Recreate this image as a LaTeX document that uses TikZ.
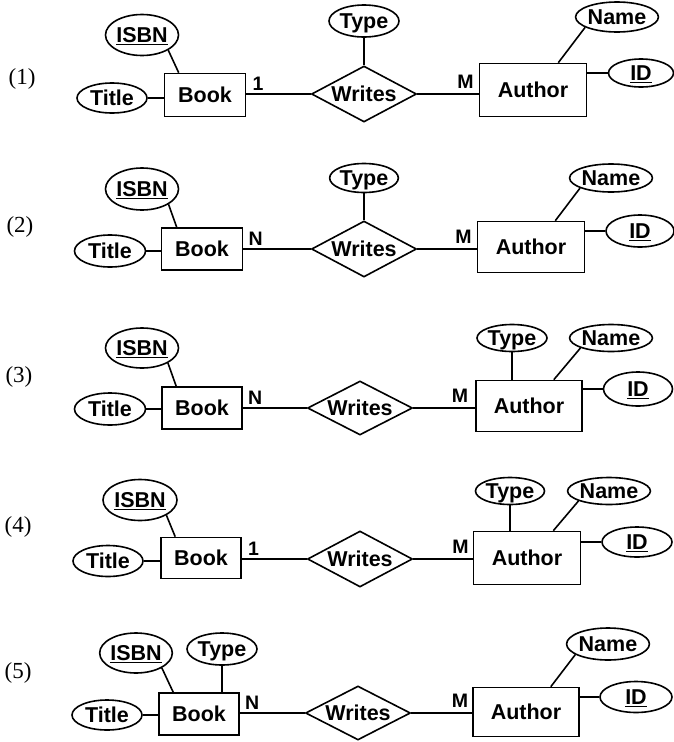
\documentclass[tikz,border=0pt]{standalone}
\usepackage{fontspec}
\setmainfont{Liberation Sans}
\newfontfamily\numserif{Liberation Serif}
\usetikzlibrary{shapes.geometric}
\newcommand{\bigfnt}{\bfseries\fontsize{21.5}{25}\selectfont}
\newcommand{\cardfnt}{\bfseries\fontsize{19.5}{23}\selectfont}
\newcommand{\numfnt}{\numserif\fontsize{23}{27}\selectfont}
\newcommand{\ul}[1]{\underline{#1}}
\tikzset{
  ent/.style={draw, rectangle, line width=1.6pt, inner sep=0pt, font=\bigfnt,
    text height=15.4pt, text depth=0pt},
  attr/.style={draw, ellipse, line width=1.6pt, inner sep=0pt, font=\bigfnt,
    text height=15.4pt, text depth=0pt},
  rel/.style={draw, diamond, line width=1.6pt, inner sep=0pt, aspect=1.9,
    minimum width=105pt, font=\bigfnt, text height=15.4pt, text depth=0pt},
  card/.style={inner sep=0pt, font=\cardfnt},
  num/.style={inner sep=0pt, font=\numfnt},
  conn/.style={line width=1.6pt}
}
\begin{document}
\begin{tikzpicture}[x=1pt,y=-1pt]
\useasboundingbox (0,0) rectangle (674,742);

% ---------------- (1) ----------------
\node[num] (n1) at (22,79) {(1)};
\node[attr, minimum width=73pt, minimum height=41pt] (isbn1) at (142,35) {\ul{ISBN}};
\node[attr, minimum width=70pt, minimum height=30pt] (title1) at (112,98) {Title};
\node[ent, minimum width=81pt, minimum height=43pt] (book1) at (205,95) {Book};
\node[rel, minimum height=56pt] (w1) at (364,94) {Writes};
\node[attr, minimum width=70pt, minimum height=32pt] (type1) at (364,21) {Type};
\node[ent, minimum width=107pt, minimum height=53pt] (auth1) at (533,90) {Author};
\node[attr, minimum width=72pt, minimum height=30pt] (name1) at (617,17) {Name};
\node[attr, minimum width=65pt, minimum height=28pt] (id1) at (641,73) {\ul{ID}};
\draw[conn] (isbn1.-30) -- ([xshift=15pt]book1.north west);
\draw[conn] (title1.east) -- (title1.east -| book1.west);
\draw[conn] (w1.west) -- (w1.west -| book1.east);
\draw[conn] (type1.south) -- (w1.north);
\draw[conn] (w1.east) -- (w1.east -| auth1.west);
\draw[conn] (name1.-162) -- ([xshift=-29pt]auth1.north east);
\draw[conn] (id1.west -| auth1.east) -- (id1.west);
\node[card, anchor=south west] (c1a) at ([shift={(6,-3)}]w1.west -| book1.east) {1};
\node[card, anchor=south east] (c1b) at ([shift={(-5,-5)}]w1.east -| auth1.west) {M};

% ---------------- (2) ----------------
\node[num] (n2) at (20,227) {(2)};
\node[attr, minimum width=73pt, minimum height=42pt] (isbn2) at (142,189) {\ul{ISBN}};
\node[attr, minimum width=71pt, minimum height=32pt] (title2) at (110,251) {Title};
\node[ent, minimum width=81pt, minimum height=42pt] (book2) at (202,249) {Book};
\node[rel, minimum height=56pt] (w2) at (364,249) {Writes};
\node[attr, minimum width=68pt, minimum height=29pt] (type2) at (364,178) {Type};
\node[ent, minimum width=107pt, minimum height=51pt] (auth2) at (531,247) {Author};
\node[attr, minimum width=67pt, minimum height=28pt] (name2) at (611,178) {Name};
\node[attr, minimum width=68pt, minimum height=32pt] (id2) at (640,231) {\ul{ID}};
\draw[conn] (isbn2.-30) -- ([xshift=16pt]book2.north west);
\draw[conn] (title2.east) -- (title2.east -| book2.west);
\draw[conn] (w2.west) -- (w2.west -| book2.east);
\draw[conn] (type2.south) -- (w2.north);
\draw[conn] (w2.east) -- (w2.east -| auth2.west);
\draw[conn] (name2.-162) -- ([xshift=-30pt]auth2.north east);
\draw[conn] (id2.west -| auth2.east) -- (id2.west);
\node[card, anchor=south west] (c2a) at ([shift={(5,-3)}]w2.west -| book2.east) {N};
\node[card, anchor=south east] (c2b) at ([shift={(-5,-5)}]w2.east -| auth2.west) {M};

% ---------------- (3) ----------------
\node[num] (n3) at (19,377) {(3)};
\node[attr, minimum width=73pt, minimum height=40pt] (isbn3) at (142,348) {\ul{ISBN}};
\node[attr, minimum width=71pt, minimum height=32pt] (title3) at (110,409) {Title};
\node[ent, minimum width=80pt, minimum height=42pt] (book3) at (202,408) {Book};
\node[rel, minimum height=54pt] (w3) at (360,408) {Writes};
\node[attr, minimum width=70pt, minimum height=27pt] (type3) at (512,338) {Type};
\node[ent, minimum width=106pt, minimum height=51pt] (auth3) at (529,406) {Author};
\node[attr, minimum width=68pt, minimum height=27pt] (name3) at (611,338) {Name};
\node[attr, minimum width=69pt, minimum height=34pt] (id3) at (638,389) {\ul{ID}};
\draw[conn] (isbn3.-30) -- ([xshift=15pt]book3.north west);
\draw[conn] (title3.east) -- (title3.east -| book3.west);
\draw[conn] (w3.west) -- (w3.west -| book3.east);
\draw[conn] (type3.south) -- (type3.south |- auth3.north);
\draw[conn] (w3.east) -- (w3.east -| auth3.west);
\draw[conn] (name3.-162) -- ([xshift=-29pt]auth3.north east);
\draw[conn] (id3.west -| auth3.east) -- (id3.west);
\node[card, anchor=south west] (c3a) at ([shift={(5,-3)}]w3.west -| book3.east) {N};
\node[card, anchor=south east] (c3b) at ([shift={(-7,-5)}]w3.east -| auth3.west) {M};

% ---------------- (4) ----------------
\node[num] (n4) at (18,527) {(4)};
\node[attr, minimum width=74pt, minimum height=41pt] (isbn4) at (140,500) {\ul{ISBN}};
\node[attr, minimum width=70pt, minimum height=31pt] (title4) at (108,561) {Title};
\node[ent, minimum width=80pt, minimum height=41pt] (book4) at (201,558) {Book};
\node[rel, minimum height=56pt] (w4) at (360,559) {Writes};
\node[attr, minimum width=69pt, minimum height=27pt] (type4) at (510,491) {Type};
\node[ent, minimum width=107pt, minimum height=53pt] (auth4) at (527,558) {Author};
\node[attr, minimum width=68pt, minimum height=27pt] (name4) at (609,491) {Name};
\node[attr, minimum width=70pt, minimum height=30pt] (id4) at (637,542) {\ul{ID}};
\draw[conn] (isbn4.-30) -- ([xshift=15pt]book4.north west);
\draw[conn] (title4.east) -- (title4.east -| book4.west);
\draw[conn] (w4.west) -- (w4.west -| book4.east);
\draw[conn] (type4.south) -- (type4.south |- auth4.north);
\draw[conn] (w4.east) -- (w4.east -| auth4.west);
\draw[conn] (name4.-162) -- ([xshift=-28pt]auth4.north east);
\draw[conn] (id4.west -| auth4.east) -- (id4.west);
\node[card, anchor=south west] (c4a) at ([shift={(6,-3)}]w4.west -| book4.east) {1};
\node[card, anchor=south east] (c4b) at ([shift={(-4,-5)}]w4.east -| auth4.west) {M};

% ---------------- (5) ----------------
\node[num] (n5) at (18,673) {(5)};
\node[attr, minimum width=64pt, minimum height=40pt] (isbn5) at (136,653) {\ul{ISBN}};
\node[attr, minimum width=70pt, minimum height=32pt] (type5) at (222,649) {Type};
\node[attr, minimum width=70pt, minimum height=30pt] (title5) at (107,715) {Title};
\node[ent, minimum width=80pt, minimum height=42pt] (book5) at (199,714) {Book};
\node[rel, minimum height=54pt] (w5) at (358,713) {Writes};
\node[ent, minimum width=106pt, minimum height=49pt] (auth5) at (526,712) {Author};
\node[attr, minimum width=73pt, minimum height=32pt] (name5) at (608,644) {Name};
\node[attr, minimum width=72pt, minimum height=31pt] (id5) at (636,697) {\ul{ID}};
\draw[conn] (isbn5.-30) -- ([xshift=15pt]book5.north west);
\draw[conn] (type5.south) -- (type5.south |- book5.north);
\draw[conn] (title5.east) -- (title5.east -| book5.west);
\draw[conn] (w5.west) -- (w5.west -| book5.east);
\draw[conn] (w5.east) -- (w5.east -| auth5.west);
\draw[conn] (name5.-162) -- ([xshift=-29pt]auth5.north east);
\draw[conn] (id5.west -| auth5.east) -- (id5.west);
\node[card, anchor=south west] (c5a) at ([shift={(5,-3)}]w5.west -| book5.east) {N};
\node[card, anchor=south east] (c5b) at ([shift={(-4,-5)}]w5.east -| auth5.west) {M};
\end{tikzpicture}
\end{document}
